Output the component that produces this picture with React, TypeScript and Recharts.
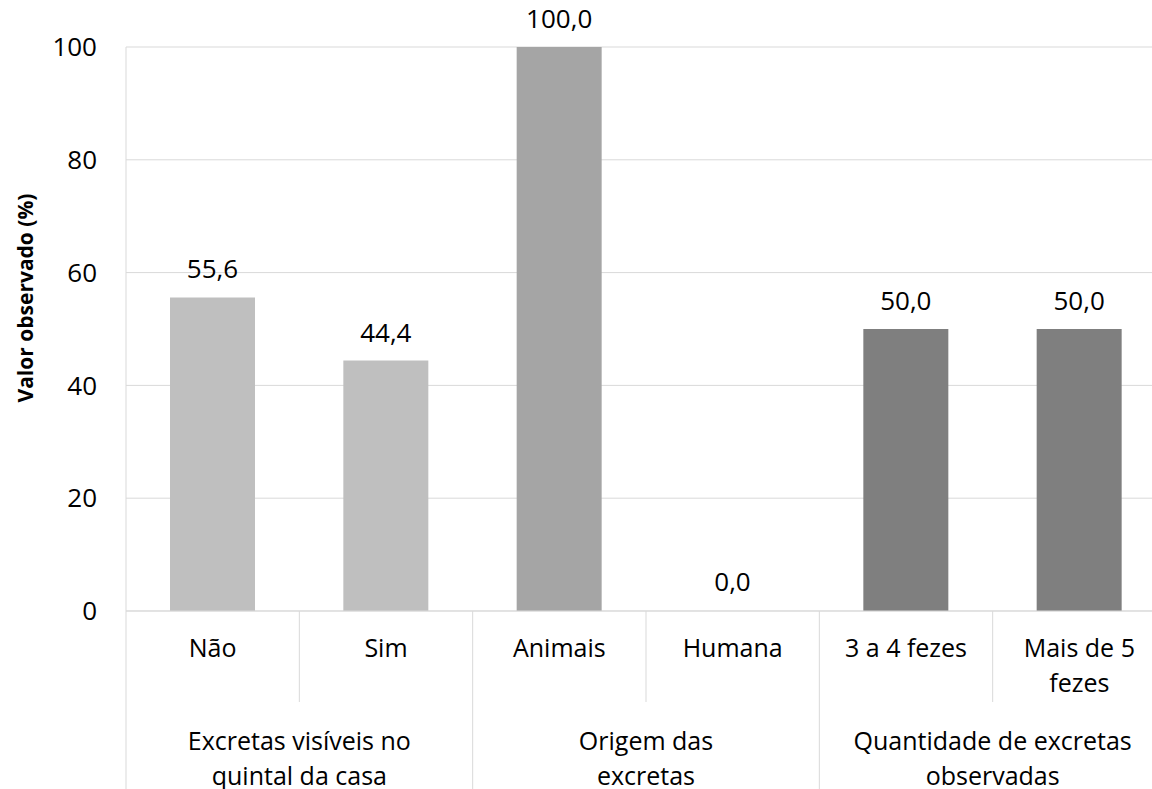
import React from 'react'
import {
  BarChart, Bar, XAxis, YAxis, CartesianGrid, Cell, LabelList
} from 'recharts'

// categories, grouped two by two
const CATEGORIES = ['Não', 'Sim', 'Animais', 'Humana', '3 a 4 fezes', 'Mais de 5\nfezes']
const GROUPS = [
  'Excretas visíveis no\nquintal da casa',
  'Origem das\nexcretas',
  'Quantidade de excretas\nobservadas',
]
const VALUES = [55.6, 44.4, 100.0, 0.0, 50.0, 50.0]
const Y_TICKS = [0, 20, 40, 60, 80, 100]
const GROUP_COLORS = ['#BFBFBF', '#A5A5A5', '#7F7F7F']

const fmt = (v: number) => v.toFixed(1).replace('.', ',')

const data = CATEGORIES.map((name, i) => ({
  name,
  value: VALUES[i],
  label: fmt(VALUES[i]),
  group: GROUPS[Math.floor(i / 2)],
}))

const FONT = '"Open Sans", sans-serif'
const CHART_W = 1200
const CHART_H = 800
const TOP = 47
const Y_AXIS_W = 126
const RIGHT = 34
const X_AXIS_H = 189
const PLOT_W = CHART_W - Y_AXIS_W - RIGHT
const BW = PLOT_W / CATEGORIES.length
const AXIS_Y = CHART_H - X_AXIS_H
const LINE = '#D9D9D9'

function CategoryTick(props: any) {
  const { x, index, payload } = props
  const lines = String(payload.value).split('\n')
  const first = index % 2 === 0
  const groupLines = first ? GROUPS[index / 2].split('\n') : []
  return (
    <g>
      {lines.map((l, i) => (
        <text key={i} x={x} y={AXIS_Y + 46 + i * 35} textAnchor="middle"
          fontFamily={FONT} fontSize={25} fill="#000">{l}</text>
      ))}
      {first && (
        <>
          <line x1={x + BW / 2} x2={x + BW / 2} y1={AXIS_Y} y2={AXIS_Y + 91} stroke={LINE} />
          <line x1={x - BW / 2} x2={x - BW / 2} y1={AXIS_Y} y2={CHART_H} stroke={LINE} />
          {groupLines.map((l, i) => (
            <text key={'g' + i} x={x + BW / 2} y={AXIS_Y + 139 + i * 35} textAnchor="middle"
              fontFamily={FONT} fontSize={25} fill="#000">{l}</text>
          ))}
        </>
      )}
      {index === CATEGORIES.length - 1 && (
        <line x1={x + BW / 2} x2={x + BW / 2} y1={AXIS_Y} y2={CHART_H} stroke={LINE} />
      )}
    </g>
  )
}

function ValueTick(props: any) {
  const { y, payload } = props
  return (
    <text x={97} y={y} dy="0.35em" textAnchor="end"
      fontFamily={FONT} fontSize={26} fill="#000">{payload.value}</text>
  )
}

function BarValue(props: any) {
  const { x, y, width, height, value } = props
  const top = Math.min(y, y + height)
  return (
    <text x={x + width / 2} y={top - 19} textAnchor="middle"
      fontFamily={FONT} fontSize={26} fill="#000">{value}</text>
  )
}

export default function App() {
  return (
    <div style={{
      position: 'fixed', left: 0, top: 0, width: 1152, height: 789,
      overflow: 'hidden', background: '#fff'
    }}>
      <BarChart
        width={CHART_W}
        height={CHART_H}
        data={data}
        margin={{ top: TOP, right: RIGHT, left: 0, bottom: 0 }}
      >
        <CartesianGrid vertical={false} stroke={LINE} />
        <XAxis
          dataKey="name"
          height={X_AXIS_H}
          interval={0}
          tickLine={false}
          tickSize={0}
          tickMargin={0}
          axisLine={{ stroke: LINE }}
          tick={<CategoryTick />}
        />
        <YAxis
          width={Y_AXIS_W}
          domain={[0, 100]}
          ticks={Y_TICKS}
          tickLine={false}
          axisLine={{ stroke: LINE }}
          tick={<ValueTick />}
          label={{
            content: () => (
              <text transform="translate(33,298) rotate(-90)" textAnchor="middle"
                fontFamily={FONT} fontSize={21} fontWeight="bold" fill="#000">
                Valor observado (%)
              </text>
            )
          }}
        />
        <Bar dataKey="value" barSize={85} minPointSize={1} isAnimationActive={false}>
          {data.map((d, i) => (
            <Cell key={i} fill={GROUP_COLORS[Math.floor(i / 2)]}
              fillOpacity={d.value === 0 ? 0 : 1} />
          ))}
          <LabelList dataKey="label" content={<BarValue />} />
        </Bar>
      </BarChart>
    </div>
  )
}
